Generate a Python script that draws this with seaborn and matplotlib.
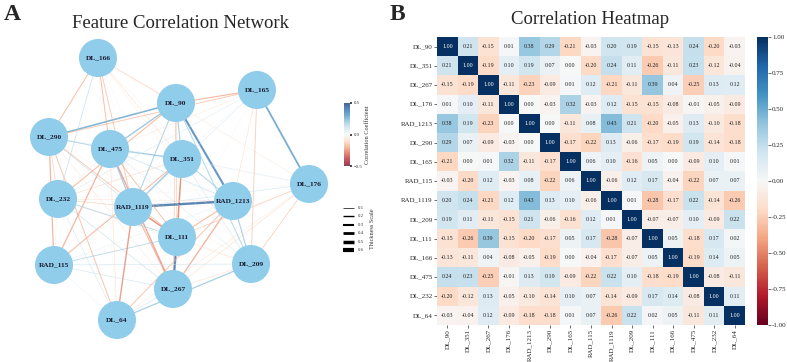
import numpy as np
import pandas as pd
import matplotlib.pyplot as plt
import matplotlib as mpl
import seaborn as sns
from itertools import combinations

features = ["DL_90", "DL_351", "DL_267", "DL_176", "RAD_1213", "DL_290", "DL_165",
            "RAD_115", "RAD_1119", "DL_209", "DL_111", "DL_166", "DL_475", "DL_232", "DL_64"]

corr_rows = [
    [1.00, 0.21, -0.15, 0.01, 0.38, 0.29, -0.21, -0.03, 0.20, 0.19, -0.15, -0.13, 0.24, -0.20, -0.03],
    [0.21, 1.00, -0.19, 0.10, 0.19, 0.07, 0.00, -0.20, 0.24, 0.11, -0.26, -0.11, 0.23, -0.12, -0.04],
    [-0.15, -0.19, 1.00, -0.11, -0.23, -0.09, 0.01, 0.12, -0.21, -0.11, 0.39, 0.04, -0.25, 0.13, 0.12],
    [0.01, 0.10, -0.11, 1.00, 0.00, -0.03, 0.32, -0.03, 0.12, -0.15, -0.15, -0.08, -0.01, -0.05, -0.09],
    [0.38, 0.19, -0.23, 0.00, 1.00, 0.00, -0.11, 0.08, 0.43, 0.21, -0.20, -0.05, 0.13, -0.10, -0.18],
    [0.29, 0.07, -0.09, -0.03, 0.00, 1.00, -0.17, -0.22, 0.13, -0.06, -0.17, -0.19, 0.19, -0.14, -0.18],
    [-0.21, 0.00, 0.01, 0.32, -0.11, -0.17, 1.00, 0.06, 0.10, -0.16, 0.05, 0.00, -0.09, 0.10, 0.01],
    [-0.03, -0.20, 0.12, -0.03, 0.08, -0.22, 0.06, 1.00, -0.06, 0.12, 0.17, -0.04, -0.22, 0.07, 0.07],
    [0.20, 0.24, -0.21, 0.12, 0.43, 0.13, 0.10, -0.06, 1.00, 0.01, -0.28, -0.17, 0.22, -0.14, -0.26],
    [0.19, 0.11, -0.11, -0.15, 0.21, -0.06, -0.16, 0.12, 0.01, 1.00, -0.07, -0.07, 0.10, -0.09, 0.22],
    [-0.15, -0.26, 0.39, -0.15, -0.20, -0.17, 0.05, 0.17, -0.28, -0.07, 1.00, 0.05, -0.18, 0.17, 0.02],
    [-0.13, -0.11, 0.04, -0.08, -0.05, -0.19, 0.00, -0.04, -0.17, -0.07, 0.05, 1.00, -0.19, 0.14, 0.05],
    [0.24, 0.23, -0.25, -0.01, 0.13, 0.19, -0.09, -0.22, 0.22, 0.10, -0.18, -0.19, 1.00, -0.08, -0.11],
    [-0.20, -0.12, 0.13, -0.05, -0.10, -0.14, 0.10, 0.07, -0.14, -0.09, 0.17, 0.14, -0.08, 1.00, 0.11],
    [-0.03, -0.04, 0.12, -0.09, -0.18, -0.18, 0.01, 0.07, -0.26, 0.22, 0.02, 0.05, -0.11, 0.11, 1.00],
]

thickness_levels = [0.1, 0.2, 0.3, 0.4, 0.5, 0.6]

# network layout (pixel coords of the node centres)
layout = {
    "DL_166": (98, 58), "DL_165": (257, 90), "DL_90": (176, 103), "DL_290": (49, 137),
    "DL_475": (110, 149), "DL_351": (182, 159), "DL_176": (309, 184), "DL_232": (58, 199),
    "RAD_1119": (133, 207), "RAD_1213": (233, 201), "DL_111": (177, 237), "RAD_115": (54, 265),
    "DL_209": (251, 264), "DL_267": (173, 289), "DL_64": (117, 320),
}

corr = pd.DataFrame(corr_rows, index=features, columns=features)

sns.set_theme(style="white")
plt.rcParams["font.family"] = ["Liberation Serif", "DejaVu Serif"]

W, H = 787, 362
fig = plt.figure(figsize=(W / 100, H / 100), dpi=100)

def px_axes(x0, y0, x1, y1):
    return fig.add_axes([x0 / W, 1 - y1 / H, (x1 - x0) / W, (y1 - y0) / H])

# ---- A: network ----
ax_net = px_axes(0, 0, 400, 362)

cmap_net = plt.get_cmap("RdBu")
norm_net = mpl.colors.Normalize(-0.5, 0.5)
for a, b in combinations(features, 2):
    r = corr.loc[a, b]
    (x0, y0), (x1, y1) = layout[a], layout[b]
    ax_net.plot([x0, x1], [y0, y1], color=cmap_net(norm_net(r)), lw=abs(r) * 4,
                alpha=0.7, zorder=1, solid_capstyle="butt")

nodes = pd.DataFrame({"feature": features,
                      "x": [layout[f][0] for f in features],
                      "y": [layout[f][1] for f in features]})
sns.scatterplot(data=nodes, x="x", y="y", s=750, color="#8fcdea", edgecolor="none",
                ax=ax_net, zorder=2, legend=False)
ax_net.set_xlim(0, 400)
ax_net.set_ylim(362, 0)
ax_net.axis("off")
for _, row in nodes.iterrows():
    ax_net.text(row.x, row.y, row.feature, ha="center", va="center", fontsize=5.3,
                fontweight="bold", color="#1a1a2e", zorder=3)

ax_net.text(180, 23, "Feature Correlation Network", ha="center", va="center", fontsize=13.5)
ax_net.text(12, 14, "A", ha="center", va="center", fontsize=17, fontweight="bold")

# thickness legend
for i, v in enumerate(thickness_levels):
    yy = 208 + i * 8.4
    ax_net.plot([343, 354], [yy, yy], color="black", lw=v * 5, solid_capstyle="butt")
    ax_net.text(358, yy, f"{v:.1f}", fontsize=3.5, va="center", ha="left", color="#333333")
ax_net.text(372, 229, "Thickness Scale", rotation=90, fontsize=4.5, va="center", ha="center",
            color="#333333")

# network colorbar
cax_net = px_axes(344, 103, 350, 166)
sm = mpl.cm.ScalarMappable(norm=norm_net, cmap=cmap_net)
cb_net = fig.colorbar(sm, cax=cax_net, ticks=[-0.5, 0.0, 0.5], alpha=0.75)
cb_net.outline.set_visible(False)
cb_net.ax.tick_params(labelsize=3.5, length=1.5, pad=1, colors="#333333")
cb_net.set_label("Correlation Coefficient", fontsize=4.5, labelpad=2, color="#333333")

# ---- B: heatmap ----
ax_hm = px_axes(437, 37, 745, 325)
cax_hm = px_axes(757, 37, 768, 325)
sns.heatmap(corr, ax=ax_hm, cbar_ax=cax_hm, cmap="RdBu", vmin=-1, vmax=1, center=0,
            annot=True, fmt=".2f", annot_kws={"fontsize": 4.3, "color": "#222222"})
for t in ax_hm.texts:
    if t.get_text() == "1.00":
        t.set_color("white")
ax_hm.tick_params(axis="both", labelsize=5, length=2, pad=1, width=0.5,
                  left=True, bottom=True, color="#333333")
ax_hm.set_xticklabels(features, rotation=90)
ax_hm.set_yticklabels(features, rotation=0)
ax_hm.set_xlabel("")
ax_hm.set_ylabel("")
cax_hm.tick_params(labelsize=5, length=2, pad=1, width=0.5, right=True, color="#333333")
cax_hm.set_yticks([-1, -0.75, -0.5, -0.25, 0, 0.25, 0.5, 0.75, 1])
cax_hm.set_yticklabels(["-1.00", "-0.75", "-0.50", "-0.25", "0.00", "0.25", "0.50", "0.75", "1.00"])

fig.text(590 / W, 1 - 19 / H, "Correlation Heatmap", ha="center", va="center", fontsize=13.5)
fig.text(397 / W, 1 - 14 / H, "B", ha="center", va="center", fontsize=17, fontweight="bold")

fig.savefig("out.png", dpi=100)
